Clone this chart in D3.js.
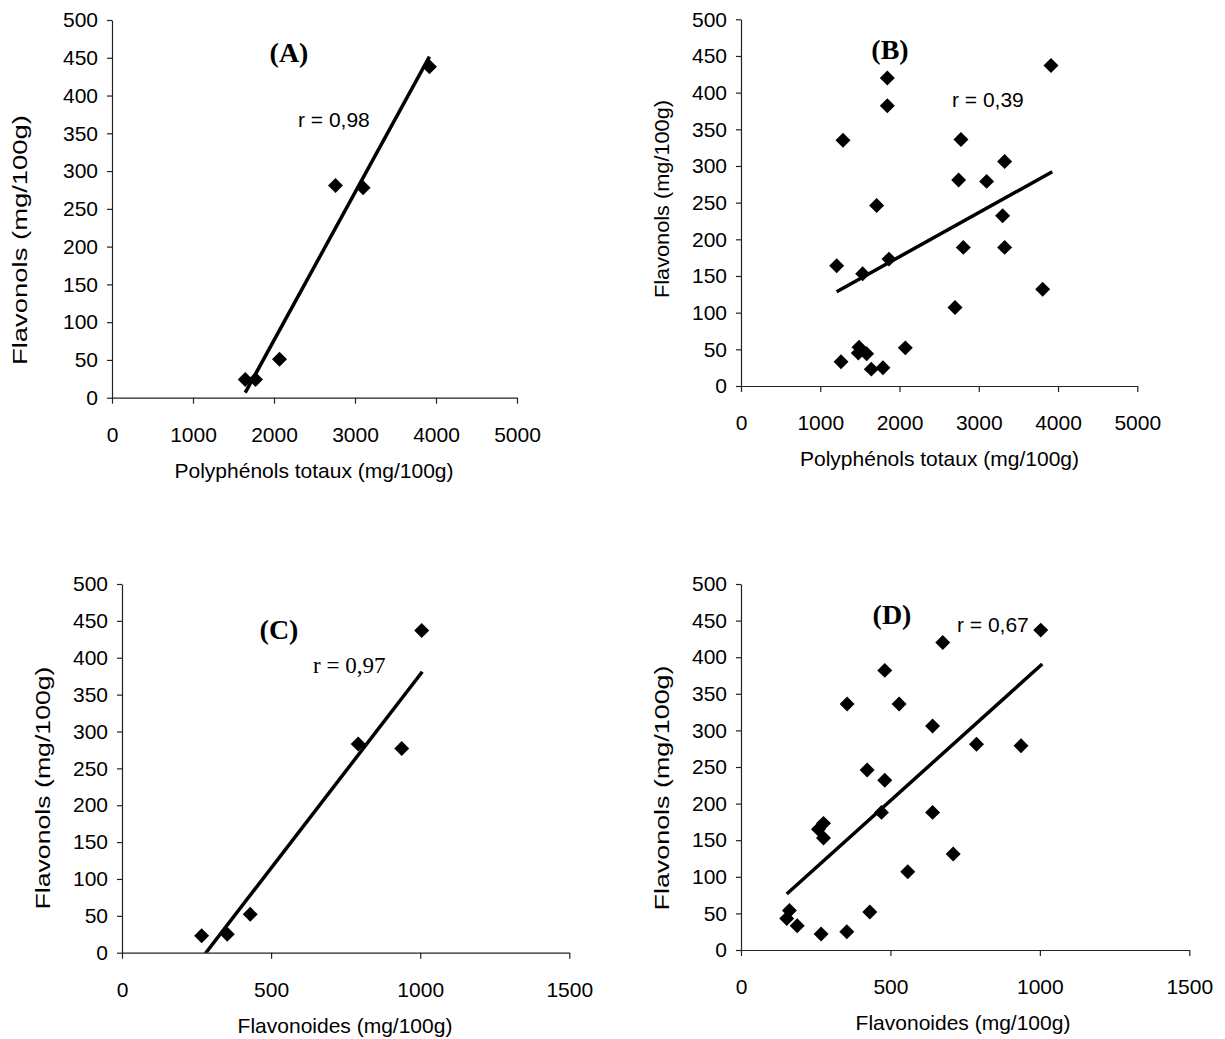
<!DOCTYPE html>
<html><head><meta charset="utf-8">
<script src="https://cdn.jsdelivr.net/npm/d3@7"></script>
<style>body{margin:0;background:#fff} svg{display:block}</style>
</head><body>
<script>
// ---------- data ----------
const yTickValues = [0, 50, 100, 150, 200, 250, 300, 350, 400, 450, 500];
const xTicksPoly = [0, 1000, 2000, 3000, 4000, 5000];
const xTicksFlav = [0, 500, 1000, 1500];

const yTitle = "Flavonols (mg/100g)";
const xTitlePoly = "Polyphénols totaux (mg/100g)";
const xTitleFlav = "Flavonoides (mg/100g)";

// (A) Polyphenols vs flavonols
const aX = [1645, 1772, 2068, 2759, 3100, 3919];
const aY = [24, 24, 51, 281, 278, 438];
const aTrendX = [1645, 3919];
const aTrendY = [6.6, 451.4];

// (B) Polyphenols vs flavonols
const bX = [1207, 1287, 1262, 1489, 1480, 1585, 1535, 1644, 1711, 1791, 1846, 1846,
            1867, 2073, 2700, 2746, 2775, 2805, 3099, 3301, 3326, 3326, 3806, 3911];
const bY = [164, 335, 33, 53, 45, 44, 153, 23, 246, 25, 420, 382,
            173, 52, 107, 281, 336, 189, 279, 232, 306, 189, 132, 437];
const bTrendX = [1207, 3927];
const bTrendY = [128.6, 292.2];

// (C) Flavonoids vs flavonols
const cX = [267, 353, 430, 792, 938, 1005];
const cY = [23, 25, 52, 283, 277, 437];
const cTrendX = [267, 1007];
const cTrendY = [-7.7, 381];

// (D) Flavonoids vs flavonols
const dX = [153, 162, 188, 268, 259, 276, 276, 355, 354, 422, 431, 470, 481, 481,
            529, 558, 641, 641, 675, 710, 788, 937, 1003];
const dY = [43, 54, 33, 22, 165, 173, 153, 336, 25, 246, 52, 188, 232, 382,
            336, 107, 306, 188, 420, 131, 281, 279, 437];
const dTrendX = [153, 1008];
const dTrendY = [76.5, 390.7];

// ---------- layout ----------
const panels = [
  {key:"A", xs:aX, ys:aY, tx:aTrendX, ty:aTrendY, left:112, right:517, top:20, bottom:397.7,
   xMax:5000, xTicks:xTicksPoly, xTitle:xTitlePoly, xTitleX:314, 
   yTitleX:27, yTitleY:240, yTitleLen:250,
   label:"(A)", labelX:289, labelY:62, r:"r = 0,98", rX:298, rY:127, rSerif:false},
  {key:"B", xs:bX, ys:bY, tx:bTrendX, ty:bTrendY, left:741, right:1137.3, top:19.3, bottom:386,
   xMax:5000, xTicks:xTicksPoly, xTitle:xTitlePoly, xTitleX:939.5,
   yTitleX:669, yTitleY:199, yTitleLen:198,
   label:"(B)", labelX:890, labelY:59, r:"r = 0,39", rX:952, rY:107, rSerif:false},
  {key:"C", xs:cX, ys:cY, tx:cTrendX, ty:cTrendY, left:122, right:569.3, top:584, bottom:952.7,
   xMax:1500, xTicks:xTicksFlav, xTitle:xTitleFlav, xTitleX:345,
   yTitleX:50, yTitleY:788, yTitleLen:243,
   label:"(C)", labelX:279, labelY:639, r:"r = 0,97", rX:313, rY:673, rSerif:true},
  {key:"D", xs:dX, ys:dY, tx:dTrendX, ty:dTrendY, left:741, right:1189.3, top:584, bottom:950,
   xMax:1500, xTicks:xTicksFlav, xTitle:xTitleFlav, xTitleX:963,
   yTitleX:669, yTitleY:788, yTitleLen:245,
   label:"(D)", labelX:892, labelY:624, r:"r = 0,67", rX:957, rY:632, rSerif:false}
];

const SANS = "'Liberation Sans', Arial, sans-serif";
const SERIF = "'Liberation Serif', 'Times New Roman', serif";

const svg = d3.select("body").append("svg")
  .attr("width", 1225).attr("height", 1039)
  .style("background", "#fff");

panels.forEach(p => {
  const x = d3.scaleLinear().domain([0, p.xMax]).range([p.left, p.right]);
  const y = d3.scaleLinear().domain([0, 500]).range([p.bottom, p.top]);
  const g = svg.append("g");

  g.append("clipPath").attr("id", "clip" + p.key)
    .append("rect").attr("x", p.left).attr("y", p.top)
    .attr("width", p.right - p.left).attr("height", p.bottom - p.top);

  const ya = g.append("g").attr("transform", `translate(${p.left},0)`)
    .call(d3.axisLeft(y).tickValues(yTickValues).tickSize(5).tickSizeOuter(0).tickPadding(9));
  const xa = g.append("g").attr("transform", `translate(0,${p.bottom})`)
    .call(d3.axisBottom(x).tickValues(p.xTicks).tickFormat(d3.format("d")).tickSize(6).tickSizeOuter(0).tickPadding(23));
  [ya, xa].forEach(a => {
    a.select(".domain").attr("stroke", "#222").attr("stroke-width", 1.2);
    a.selectAll(".tick line").attr("stroke", "#222").attr("stroke-width", 1.2);
    a.selectAll(".tick text").attr("fill", "#000")
      .style("font-family", SANS).style("font-size", "21px");
  });

  g.append("text").attr("x", p.xTitleX).attr("y", p.bottom + 80)
    .attr("text-anchor", "middle").style("font-family", SANS).style("font-size", "21px")
    .attr("fill", "#000").text(p.xTitle);
  g.append("text")
    .attr("transform", `translate(${p.yTitleX},${p.yTitleY}) rotate(-90)`)
    .attr("text-anchor", "middle").style("font-family", SANS).style("font-size", "21px")
    .attr("textLength", p.yTitleLen).attr("lengthAdjust", "spacingAndGlyphs")
    .attr("fill", "#000").text(yTitle);

  const pts = p.tx.map((v, i) => [v, p.ty[i]]);
  g.append("path").attr("clip-path", `url(#clip${p.key})`)
    .attr("d", d3.line().x(d => x(d[0])).y(d => y(d[1]))(pts))
    .attr("stroke", "#000").attr("stroke-width", 3.5).attr("fill", "none");

  const sym = d3.symbol().type(d3.symbolSquare).size(112);
  g.selectAll("path.pt").data(p.xs.map((v, i) => [v, p.ys[i]])).enter()
    .append("path").attr("class", "pt")
    .attr("transform", d => `translate(${x(d[0])},${y(d[1])}) rotate(45)`)
    .attr("d", sym()).attr("fill", "#000");

  g.append("text").attr("x", p.labelX).attr("y", p.labelY).attr("text-anchor", "middle")
    .style("font-family", SERIF).style("font-weight", "bold").style("font-size", "28px")
    .attr("fill", "#000").text(p.label);
  g.append("text").attr("x", p.rX).attr("y", p.rY)
    .style("font-family", p.rSerif ? SERIF : SANS).style("font-size", p.rSerif ? "23px" : "21px")
    .attr("fill", "#000").text(p.r);
});
</script>
</body></html>
